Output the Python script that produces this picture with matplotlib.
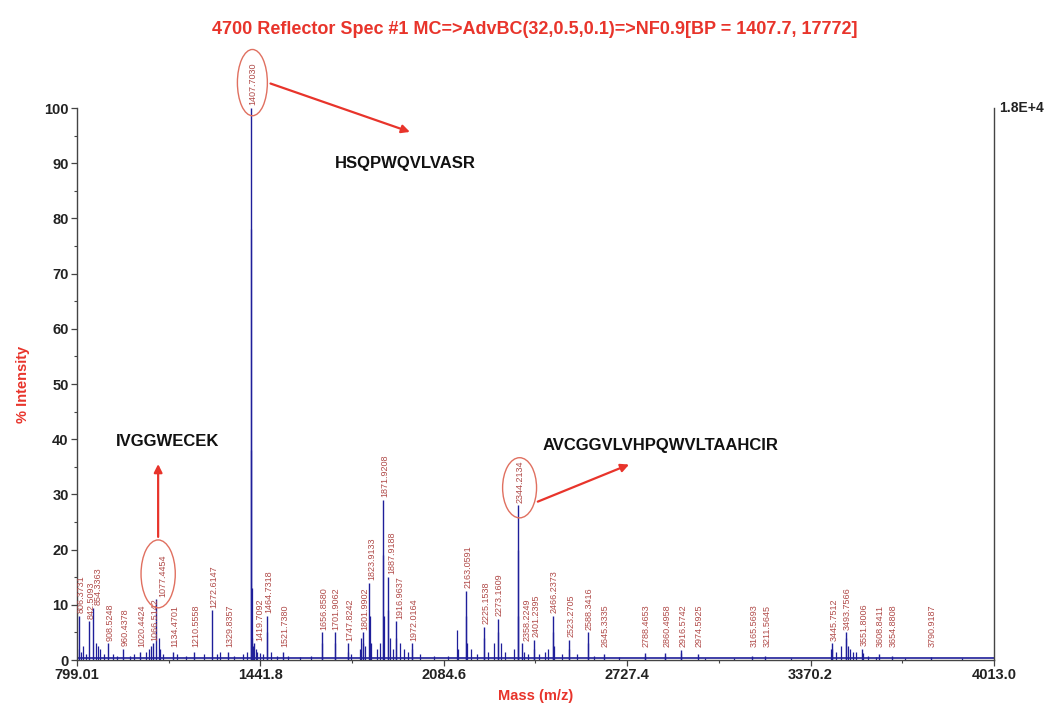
import matplotlib
matplotlib.use("Agg")
import matplotlib.pyplot as plt
from matplotlib.patches import Ellipse
from matplotlib.ticker import FixedLocator, MultipleLocator

plt.rcParams['font.family'] = ['Liberation Sans', 'DejaVu Sans']

# ---------------- data ----------------
title = "4700 Reflector Spec #1 MC=>AdvBC(32,0.5,0.1)=>NF0.9[BP = 1407.7, 17772]"
x_ticks = [799.01, 1441.8, 2084.6, 2727.4, 3370.2, 4013.0]
x_tick_labels = ["799.01", "1441.8", "2084.6", "2727.4", "3370.2", "4013.0"]

labeled_mz = [806.3731, 842.5093, 854.3363, 908.5248, 960.4378, 1020.4424, 1066.5142,
              1077.4454, 1134.4701, 1210.5558, 1272.6147, 1329.8357, 1407.7030, 1419.7092,
              1464.7318, 1521.7380, 1656.8580, 1701.9062, 1747.8242, 1801.9902, 1823.9133,
              1871.9208, 1887.9188, 1916.9637, 1972.0164, 2163.0591, 2225.1538, 2273.1609,
              2344.2134, 2358.2249, 2401.2395, 2466.2373, 2523.2705, 2588.3416, 2645.3335,
              2788.4653, 2860.4958, 2916.5742, 2974.5925, 3165.5693, 3211.5645, 3445.7512,
              3493.7566, 3551.8006, 3608.8411, 3654.8808, 3790.9187]
labeled_int = [8.0, 7.0, 9.5, 3.0, 2.0, 1.5, 3.0,
               11.0, 1.5, 1.5, 9.0, 1.5, 100.0, 3.0,
               8.0, 1.5, 5.0, 5.0, 3.0, 5.0, 14.0,
               29.0, 15.0, 7.0, 3.0, 12.5, 6.0, 7.5,
               28.0, 3.0, 3.6, 8.0, 3.6, 5.0, 1.0,
               1.2, 1.2, 1.8, 1.0, 0.8, 0.8, 3.0,
               5.0, 2.0, 1.0, 0.7, 0.5]

minor_mz = [800, 812, 820, 830, 866, 872, 880, 895, 925, 940, 985, 1000, 1040, 1050, 1060,
            1085, 1090, 1100, 1150, 1180, 1245, 1290, 1300, 1350, 1380, 1395, 1408.7, 1409.7,
            1410.7, 1411.7, 1415, 1425, 1430, 1440, 1450, 1465.7, 1480, 1500, 1540, 1580,
            1620, 1657.9, 1702.9, 1748.8, 1760, 1790, 1795, 1803.0, 1810, 1824.9, 1830, 1850,
            1860, 1872.9, 1873.9, 1888.9, 1895, 1905, 1918.0, 1930, 1945, 1960, 1973, 2000,
            2050, 2100, 2130, 2135, 2164.1, 2166, 2180, 2200, 2226.2, 2240, 2260, 2274.2,
            2285, 2300, 2330, 2345.2, 2346.2, 2365, 2380, 2402.2, 2420, 2440, 2450, 2467.2,
            2471, 2500, 2524.3, 2550, 2589.3, 2610, 2700, 2789.5, 2861.5, 2917.6, 3000, 3100,
            3300, 3440, 3446.8, 3460, 3475, 3494.8, 3500, 3510, 3520, 3530, 3552.8, 3570,
            3600, 3700, 3900]
minor_int = [2.0, 1.5, 2.5, 1.0, 3.0, 2.5, 2.0, 1.0, 1.0, 0.8, 0.8, 1.0, 1.5, 2.0, 2.5,
             4.0, 2.0, 1.0, 1.0, 0.7, 1.0, 1.0, 1.5, 0.8, 1.0, 1.5, 78.0, 38.0,
             13.0, 4.0, 2.5, 2.0, 1.5, 1.2, 1.0, 5.0, 1.5, 0.8, 0.8, 0.6,
             0.8, 3.0, 3.0, 1.5, 1.0, 2.0, 4.0, 3.0, 2.5, 8.0, 3.0, 2.0,
             3.0, 19.0, 8.0, 9.0, 4.0, 2.0, 4.0, 3.0, 2.0, 1.5, 2.0, 1.0,
             0.7, 0.8, 5.5, 2.0, 8.0, 3.0, 2.0, 1.0, 4.0, 1.5, 3.0, 5.0,
             3.0, 1.5, 2.0, 20.0, 8.0, 1.5, 1.0, 2.0, 1.0, 1.5, 2.0, 5.0,
             2.5, 1.0, 2.0, 1.0, 3.0, 0.8, 0.5, 0.8, 0.8, 1.2, 0.4, 0.4,
             0.3, 2.0, 2.0, 1.5, 2.5, 4.0, 2.5, 2.0, 1.5, 1.5, 1.2, 0.8,
             0.5, 0.3, 0.3]

peptides = ["HSQPWQVLVASR", "IVGGWECEK", "AVCGGVLVHPQWVLTAAHCIR"]

# ---------------- figure ----------------
W, H = 1053, 713
fig = plt.figure(figsize=(W / 100, H / 100), dpi=100)
L, R, B, T = 77, 994, 660, 108
ax = fig.add_axes([L / W, 1 - B / H, (R - L) / W, (B - T) / H])
ax.set_xlim(799.01, 4013.0)
ax.set_ylim(0, 100)

navy = "#1f1f9a"
lab_col = "#b04a48"
red = "#e8342b"

ax.plot([799.01, 4013.0], [0.35, 0.35], color=navy, lw=1.2, zorder=2)
ax.vlines(minor_mz, 0, minor_int, color=navy, lw=0.9, zorder=2)
ax.vlines(labeled_mz, 0, labeled_int, color=navy, lw=1.0, zorder=3)

prev_x = -1e9
for m, h in zip(labeled_mz, labeled_int):
    lx = max(m + 6, prev_x + 26)
    prev_x = lx
    y = max(h, 1.8) + 0.5
    ax.text(lx, y, f"{m:.4f}", rotation=90, fontsize=6.5, color=lab_col,
            ha="center", va="bottom", zorder=4, clip_on=False)

# ellipses around the three identified peaks
ell_specs = [(1407.7030 + 6, 104.6, 105, 12.0), (1077.4454 + 6, 15.6, 120, 12.3),
             (2344.2134 + 6, 31.2, 119, 10.9)]
for cx, cy, w, h in ell_specs:
    e = Ellipse((cx, cy), w, h, fill=False, edgecolor="#e07060", lw=1.0,
                clip_on=False, zorder=5)
    ax.add_patch(e)

arrow_kw = dict(arrowstyle="-|>", color=red, lw=1.6, mutation_scale=12)
ax.annotate("", xy=(1975, 95.5), xytext=(1468, 104.6), arrowprops=arrow_kw,
            annotation_clip=False)
ax.annotate("", xy=(1083.4, 36.0), xytext=(1083.4, 21.8), arrowprops=arrow_kw)
ax.annotate("", xy=(2743, 35.6), xytext=(2405, 28.5), arrowprops=arrow_kw)

pep_kw = dict(fontsize=12, fontweight="bold", ha="center", va="center", color="#111111")
ax.text(1950, 90.0, peptides[0], **pep_kw)
ax.text(1118, 39.5, peptides[1], **pep_kw)
ax.text(2845, 38.8, peptides[2], **pep_kw)

# axes styling
ax.spines["top"].set_visible(False)
for s in ["left", "bottom", "right"]:
    ax.spines[s].set_color("#444444")
    ax.spines[s].set_linewidth(1.0)

ax.xaxis.set_major_locator(FixedLocator(x_ticks))
ax.set_xticklabels(x_tick_labels)
mids = [(a + b) / 2 for a, b in zip(x_ticks[:-1], x_ticks[1:])]
ax.xaxis.set_minor_locator(FixedLocator(mids))
ax.yaxis.set_major_locator(MultipleLocator(10))
ax.yaxis.set_minor_locator(MultipleLocator(5))
ax.tick_params(axis="both", which="major", length=4, width=0.9, color="#444444",
               labelsize=10.5, labelcolor="#222222", pad=2)
ax.tick_params(axis="both", which="minor", length=2.5, width=0.8, color="#444444")
for lbl in ax.get_xticklabels() + ax.get_yticklabels():
    lbl.set_fontweight("bold")

ax.set_xlabel("Mass (m/z)", fontsize=10.5, fontweight="bold", color=red, labelpad=5)
ax.set_ylabel("% Intensity", fontsize=10.5, fontweight="bold", color=red, labelpad=10)

fig.text(0.508, 1 - 29 / H, title, ha="center", va="center", fontsize=13,
         fontweight="bold", color=red)
fig.text((R + 5) / W, 1 - T / H, "1.8E+4", ha="left", va="center", fontsize=10,
         fontweight="bold", color="#222222")

fig.savefig("out.png", dpi=100)
